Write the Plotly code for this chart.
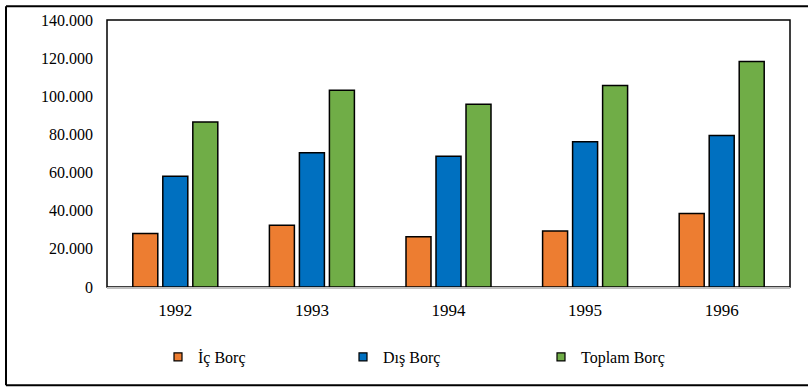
import plotly.graph_objects as go

# Turkish public debt by year (thousands of units), split into domestic and external
years = ["1992", "1993", "1994", "1995", "1996"]
ic_borc = [28100, 32400, 26400, 29300, 38600]
dis_borc = [58100, 70400, 68500, 76100, 79500]
toplam_borc = [86500, 103200, 95800, 105600, 118300]

series_names = ["İç Borç", "Dış Borç", "Toplam Borç"]
series_values = [ic_borc, dis_borc, toplam_borc]
series_colors = ["#ED7D31", "#0070C0", "#70AD47"]
legend_ids = ["legend", "legend2", "legend3"]
legend_left_px = [158, 343, 541]

y_ticks = [0, 20000, 40000, 60000, 80000, 100000, 120000, 140000]

W, H = 808, 390
M_L, M_R, M_T, M_B = 107, 18, 15, 103
FONT = "Liberation Serif"

fig = go.Figure()

for name, vals, color, lg in zip(series_names, series_values, series_colors, legend_ids):
    fig.add_trace(go.Bar(
        x=years, y=vals, name=name, showlegend=False, legendgroup=name,
        marker=dict(color=color, line=dict(color="black", width=1.5)),
    ))
    # small square swatch for the legend entry
    fig.add_trace(go.Scatter(
        x=[None], y=[None], mode="markers", name=name, legendgroup=name,
        legend=lg, showlegend=True,
        marker=dict(symbol="square", size=8, color=color,
                    line=dict(color="black", width=1.2)),
    ))

plot_w = W - M_L - M_R
plot_h = H - M_T - M_B

def px_to_paper_x(px):
    return (px - M_L) / plot_w

def px_to_paper_y(py):
    return (H - M_B - py) / plot_h

bx0, bx1 = px_to_paper_x(6), px_to_paper_x(W)
by0, by1 = px_to_paper_y(387), px_to_paper_y(1)
border = dict(color="black", width=2)

shapes = [
    # plot area frame
    dict(type="rect", xref="paper", yref="paper", x0=0, x1=1, y0=0, y1=1,
         line=dict(color="black", width=1.5), layer="below"),
    # outer chart border: top, left and bottom edges
    dict(type="line", xref="paper", yref="paper", x0=bx0, x1=bx1, y0=by1, y1=by1,
         line=border, layer="below"),
    dict(type="line", xref="paper", yref="paper", x0=bx0, x1=bx0, y0=by0, y1=by1,
         line=border, layer="below"),
    dict(type="line", xref="paper", yref="paper", x0=bx0, x1=bx1, y0=by0, y1=by0,
         line=border, layer="below"),
]

legend_common = dict(
    orientation="h", xref="container", yref="container",
    xanchor="left", yanchor="middle", y=1 - 357 / H,
    font=dict(family=FONT, size=16, color="black"),
    bgcolor="rgba(0,0,0,0)", borderwidth=0,
)

fig.update_layout(
    width=W, height=H,
    margin=dict(l=M_L, r=M_R, t=M_T, b=M_B, pad=0),
    paper_bgcolor="white", plot_bgcolor="white",
    barmode="group", bargap=0.341, bargroupgap=0.167,
    separators=",.",
    font=dict(family=FONT, size=16, color="black"),
    shapes=shapes,
    legend=dict(legend_common, x=legend_left_px[0] / W),
    legend2=dict(legend_common, x=legend_left_px[1] / W),
    legend3=dict(legend_common, x=legend_left_px[2] / W),
    xaxis=dict(
        type="category", showgrid=False, showline=True,
        linecolor="#BFBFBF", linewidth=1.5, ticks="",
        tickfont=dict(family=FONT, size=17, color="black"),
        ticklabelstandoff=7,
    ),
    yaxis=dict(
        range=[0, 140000], tickvals=y_ticks, tickformat=",d",
        showgrid=False, zeroline=False, showline=False, ticks="",
        tickfont=dict(family=FONT, size=16, color="black"),
        ticklabelstandoff=13,
    ),
)

fig.write_html("out.html")
